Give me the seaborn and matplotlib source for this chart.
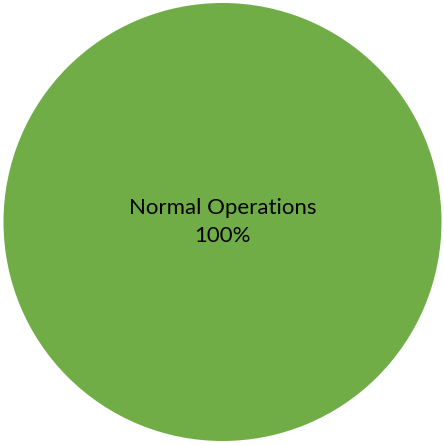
import matplotlib
matplotlib.use("Agg")
import matplotlib.pyplot as plt
import seaborn as sns

# data
categories = ["Normal Operations"]
shares = [100]
colors = ["#70AD47"]

sns.set_style("white")
plt.rcParams["font.family"] = ["Lato", "DejaVu Sans"]

fig = plt.figure(figsize=(4.44, 4.45), dpi=100)
ax = fig.add_axes([3 / 444, 4 / 445, 439 / 444, 438 / 445])

wedges, texts, autotexts = ax.pie(
    shares,
    colors=colors,
    startangle=90,
    counterclock=False,
    radius=1.0,
    autopct=lambda p: f"{categories[0]}\n{p:.0f}%",
    pctdistance=0.0,
    wedgeprops={"linewidth": 0},
    textprops={"fontsize": 16, "color": "black", "linespacing": 1.55},
)
ax.set_xlim(-1, 1)
ax.set_ylim(-1, 1)
ax.axis("off")

fig.savefig("out.png", dpi=100, facecolor="white")
